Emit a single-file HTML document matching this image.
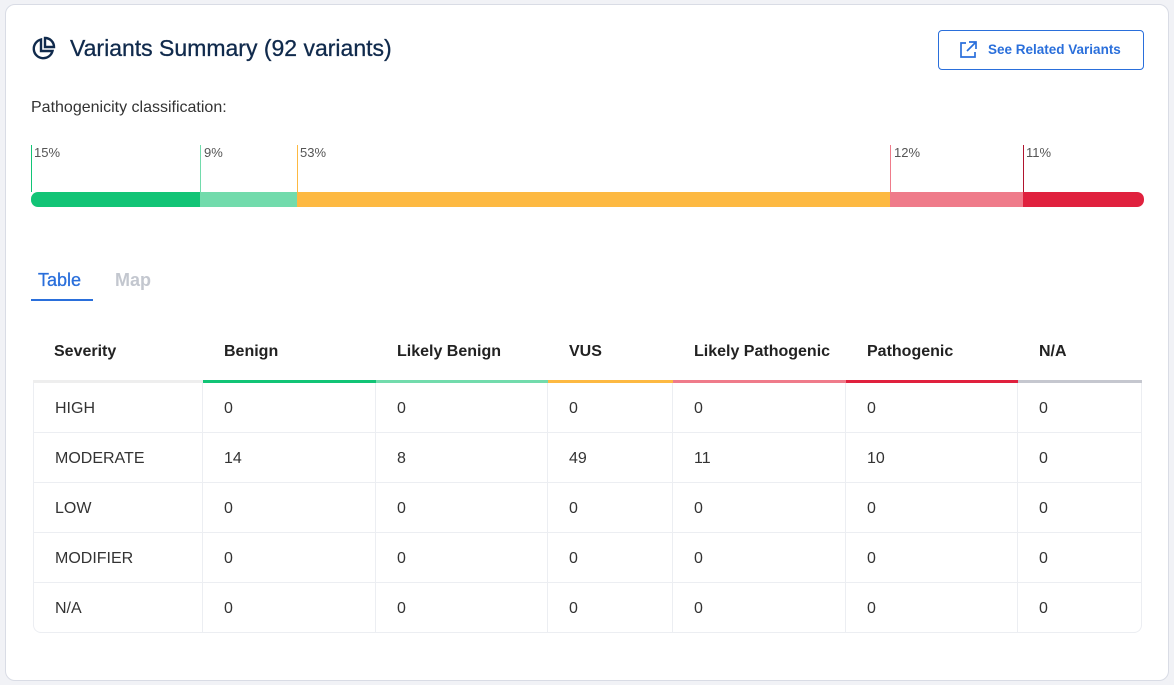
<!DOCTYPE html>
<html><head><meta charset="utf-8"><style>
*{box-sizing:border-box;margin:0;padding:0}
body{width:1174px;height:685px;background:#f1f2f6;font-family:"Liberation Sans",Arial,sans-serif;position:relative;overflow:hidden}
.card{position:absolute;left:5px;top:4px;width:1164px;height:677px;background:#fff;border:1px solid #d9dce5;border-radius:10px}
.abs{position:absolute}
.title{left:70px;top:35px;font-size:23px;color:#102a4c;-webkit-text-stroke:0.3px #102a4c}
.btn{left:938px;top:30px;width:206px;height:40px;border:1px solid #2a6fdb;border-radius:4px;color:#2a6fdb;font-size:13.5px;font-weight:bold;padding:11px 0 0 49px}
.sub{left:31px;top:99px;font-size:16px;color:#333}
.seg{position:absolute;top:192px;height:15px}
.tick{position:absolute;top:145px;width:1px;height:47px}
.lab{position:absolute;top:145px;font-size:13px;color:#555}
table{position:absolute;left:33px;top:322px;border-collapse:separate;border-spacing:0;font-size:16px;color:#333}
th{height:61px;text-align:left;font-weight:bold;color:#222;padding-left:21px;padding-top:2px;font-size:16px;border-bottom:3px solid #eee;vertical-align:middle}
td{height:50px;padding-left:21px;padding-top:3px;border-right:1px solid #eceef2;border-bottom:1px solid #eceef2}
tr td:first-child{border-left:1px solid #eceef2}
tr td:last-child{border-right:1px solid #eceef2}
tr:last-child td:first-child{border-bottom-left-radius:8px}
tr:last-child td:last-child{border-bottom-right-radius:8px}
</style></head><body>
<div class="card"></div>
<svg class="abs" style="left:30px;top:36px" width="26" height="26" viewBox="0 0 26 26"><path d="M11 3.5A9.5 9.5 0 1 0 22.5 15H11Z" fill="none" stroke="#102a4c" stroke-width="2.4"/><path d="M15 2v9h9A9 9 0 0 0 15 2Z" fill="none" stroke="#102a4c" stroke-width="2.4"/></svg>
<div class="abs title">Variants Summary (92 variants)</div>
<div class="abs btn">See Related Variants</div>
<svg class="abs" style="left:958px;top:40px" width="20" height="20" viewBox="0 0 20 20"><path d="M8 3H3v14h14v-5M11 2h7v7M18 2l-9 9" fill="none" stroke="#2a6fdb" stroke-width="1.7"/></svg>
<div class="abs sub">Pathogenicity classification:</div>
<div class="seg" style="left:31px;width:169px;background:#12c476;border-radius:7px 0 0 7px"></div>
<div class="seg" style="left:200px;width:97px;background:#72dbac"></div>
<div class="seg" style="left:297px;width:593px;background:#fdb942"></div>
<div class="seg" style="left:890px;width:133px;background:#ef7b8a"></div>
<div class="seg" style="left:1023px;width:121px;background:#e0213e;border-radius:0 7px 7px 0"></div>
<div class="tick" style="left:31px;background:#12c476"></div><div class="lab" style="left:34px">15%</div>
<div class="tick" style="left:200px;background:#72dbac"></div><div class="lab" style="left:204px">9%</div>
<div class="tick" style="left:297px;background:#fdb942"></div><div class="lab" style="left:300px">53%</div>
<div class="tick" style="left:890px;background:#ef7b8a"></div><div class="lab" style="left:894px">12%</div>
<div class="tick" style="left:1023px;background:#b0142e"></div><div class="lab" style="left:1026px">11%</div>
<div class="abs" style="left:38px;top:270px;font-size:18px;color:#2a6fdb;-webkit-text-stroke:0.3px #2a6fdb">Table</div>
<div class="abs" style="left:31px;top:299px;width:62px;height:2px;background:#2a6fdb"></div>
<div class="abs" style="left:115px;top:270px;font-size:18px;color:#c3c7cf;font-weight:bold">Map</div>
<table>
<tr><th style="width:170px">Severity</th><th style="width:173px;border-bottom-color:#12c476">Benign</th><th style="width:172px;border-bottom-color:#72dbac">Likely Benign</th><th style="width:125px;border-bottom-color:#fdb942">VUS</th><th style="width:173px;border-bottom-color:#ef7b8a">Likely Pathogenic</th><th style="width:172px;border-bottom-color:#e0213e">Pathogenic</th><th style="width:124px;border-bottom-color:#c5c7cf">N/A</th></tr>
<tr><td>HIGH</td><td>0</td><td>0</td><td>0</td><td>0</td><td>0</td><td>0</td></tr>
<tr><td>MODERATE</td><td>14</td><td>8</td><td>49</td><td>11</td><td>10</td><td>0</td></tr>
<tr><td>LOW</td><td>0</td><td>0</td><td>0</td><td>0</td><td>0</td><td>0</td></tr>
<tr><td>MODIFIER</td><td>0</td><td>0</td><td>0</td><td>0</td><td>0</td><td>0</td></tr>
<tr><td>N/A</td><td>0</td><td>0</td><td>0</td><td>0</td><td>0</td><td>0</td></tr>
</table>
</body></html>
